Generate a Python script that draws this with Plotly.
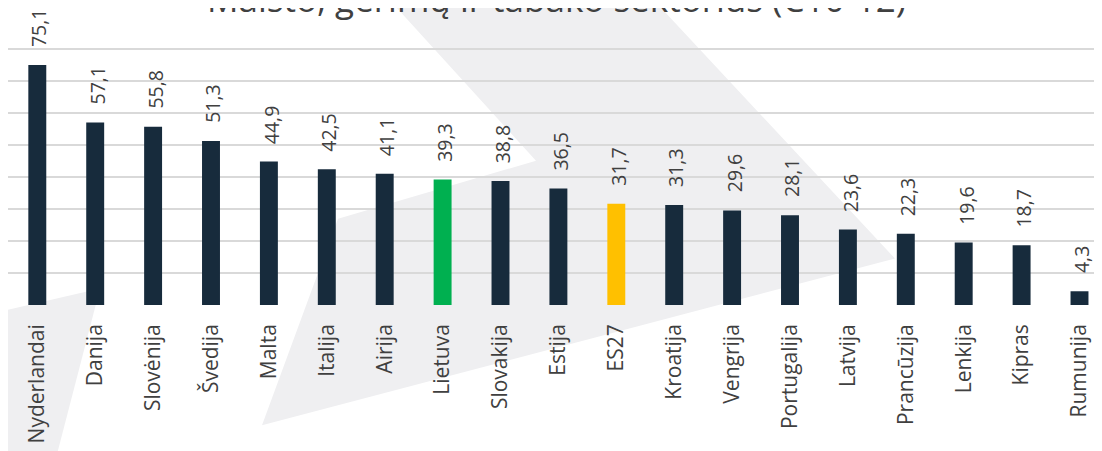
import plotly.graph_objects as go

countries = ["Nyderlandai", "Danija", "Slovėnija", "Švedija", "Malta", "Italija", "Airija",
             "Lietuva", "Slovakija", "Estija", "ES27", "Kroatija", "Vengrija", "Portugalija",
             "Latvija", "Prancūzija", "Lenkija", "Kipras", "Rumunija"]
values = [75.1, 57.1, 55.8, 51.3, 44.9, 42.5, 41.1, 39.3, 38.8, 36.5, 31.7, 31.3, 29.6, 28.1,
          23.6, 22.3, 19.6, 18.7, 4.3]
labels = ["75,1", "57,1", "55,8", "51,3", "44,9", "42,5", "41,1", "39,3", "38,8", "36,5", "31,7",
          "31,3", "29,6", "28,1", "23,6", "22,3", "19,6", "18,7", "4,3"]
title_text = "Maisto, gėrimų ir tabako sektorius (C10-12)"
grid_vals = [0, 10, 20, 30, 40, 50, 60, 70, 80]

NAVY = "#172b3c"
GREEN = "#00b050"
YELLOW = "#ffc000"
highlight = {"Lietuva": GREEN, "ES27": YELLOW}
colors = [highlight.get(c, NAVY) for c in countries]

# page body has an 8px margin; figure coordinates = screen - 8
OFF = 8
W, H = 1094, 443
ML, MR, MT = 0, 0, 0
BASE = 305.5 - OFF           # baseline in figure pixels
MB = H - BASE
PW = W - ML - MR
PH = BASE - MT
PX_PER_UNIT = 3.2
SPACING = 57.9
FIRST_CENTER = 37.3 - OFF
LABEL_FS = 19.5
LABEL_GAP = 18


def px(x):
    return (x - OFF - ML) / PW


def py(y):
    return (BASE - (y - OFF)) / PH


def path(points):
    return "M " + " L ".join(f"{px(x):.5f},{py(y):.5f}" for x, y in points) + " Z"


def text_len(s, fs):
    # approximate rendered width of a numeric label in Open Sans
    return sum((0.26 if ch == "," else 0.572) for ch in s) * fs


fig = go.Figure()
fig.add_trace(go.Bar(
    x=countries, y=values, marker=dict(color=colors, line=dict(width=0)),
    width=0.31, hoverinfo="x+y", showlegend=False,
))

WM = "#efeff1"
shapes = [
    dict(type="path", xref="paper", yref="paper", layer="below", line=dict(width=0),
         fillcolor=WM,
         path=path([(262, 426), (895, 259), (650, -4), (386, -4), (536, 161), (338, 219)])),
    dict(type="path", xref="paper", yref="paper", layer="below", line=dict(width=0),
         fillcolor=WM,
         path=path([(100, 289), (0, 312), (0, 455), (57, 455)])),
]

annotations = []
for c, v, t in zip(countries, values, labels):
    annotations.append(dict(
        x=c, y=v, xref="x", yref="y", text=t, textangle=-90, showarrow=False,
        xanchor="center", yanchor="middle", xshift=2,
        yshift=LABEL_GAP + text_len(t, LABEL_FS) / 2,
        font=dict(family="Open Sans", size=LABEL_FS, color="#404040"),
    ))
annotations.append(dict(
    x=px(556), y=py(12.5 + 11.3), xref="paper", yref="paper", text=title_text,
    showarrow=False, xanchor="center", yanchor="bottom",
    font=dict(family="Open Sans", size=35, color="#404040"),
))

x0 = -0.5 - (FIRST_CENTER - 0.5 * SPACING) / SPACING
x1 = x0 + PW / SPACING

fig.update_layout(
    width=W, height=H,
    margin=dict(l=ML, r=MR, t=MT, b=MB, pad=0),
    paper_bgcolor="white", plot_bgcolor="rgba(0,0,0,0)",
    shapes=shapes, annotations=annotations,
    font=dict(family="Open Sans", color="#404040"),
    xaxis=dict(type="category", range=[x0, x1], showgrid=False, zeroline=False,
               showline=False, tickangle=-90, ticks="", ticklabelstandoff=14,
               tickfont=dict(family="Open Sans", size=21, color="#404040"), fixedrange=True),
    yaxis=dict(range=[0, PH / PX_PER_UNIT], tickvals=grid_vals, showticklabels=False,
               showgrid=True, gridcolor="#d9d9d9", gridwidth=1.5, zeroline=False,
               showline=False, fixedrange=True),
)

fig.write_html("out.html")
